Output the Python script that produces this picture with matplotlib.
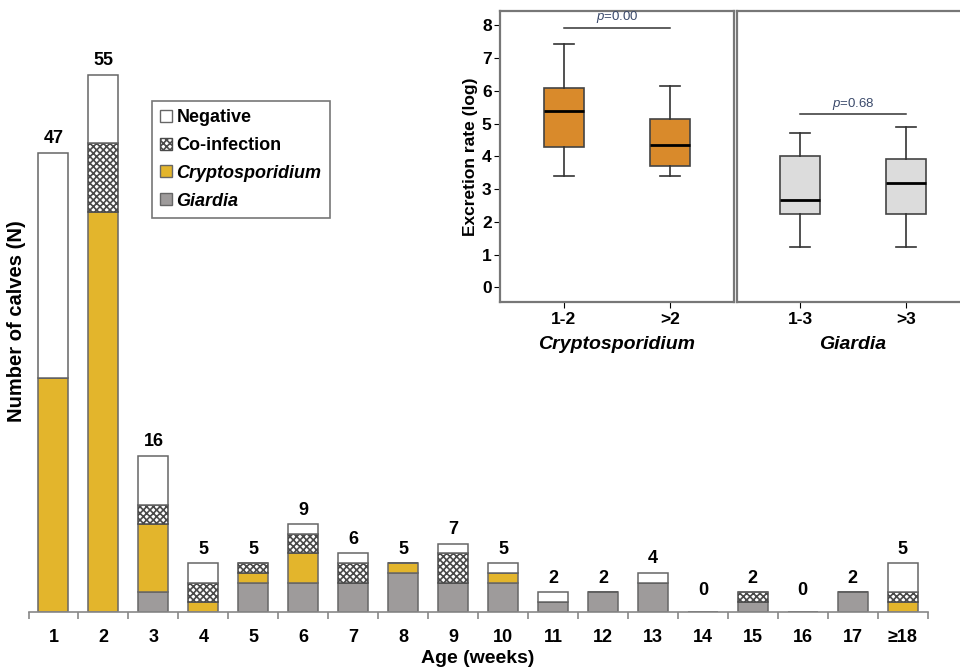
import matplotlib
matplotlib.use("Agg")
import matplotlib.pyplot as plt
from matplotlib.patches import Patch
import numpy as np

plt.rcParams['font.family'] = ['Liberation Sans', 'DejaVu Sans']
plt.rcParams['mathtext.fontset'] = 'custom'
plt.rcParams['mathtext.it'] = 'Liberation Sans:italic'
plt.rcParams['mathtext.rm'] = 'Liberation Sans'
plt.rcParams['hatch.linewidth'] = 1.2

# stacked bars: calves per age week
ages = ['1', '2', '3', '4', '5', '6', '7', '8', '9', '10',
        '11', '12', '13', '14', '15', '16', '17', '\u226518']
giardia = [0, 0, 2, 0, 3, 3, 3, 4, 3, 3, 1, 2, 3, 0, 1, 0, 2, 0]
crypto = [24, 41, 7, 1, 1, 3, 0, 1, 0, 1, 0, 0, 0, 0, 0, 0, 0, 1]
coinf = [0, 7, 2, 2, 1, 2, 2, 0, 3, 0, 0, 0, 0, 0, 1, 0, 0, 1]
negative = [23, 7, 5, 2, 0, 1, 1, 0, 1, 1, 1, 0, 1, 0, 0, 0, 0, 3]

# inset box plots (log excretion rate)
crypto_groups = ['1-2', '>2']
crypto_box = [  # whislo, q1, med, q3, whishi
    [3.41, 4.28, 5.40, 6.09, 7.44],
    [3.41, 3.71, 4.34, 5.15, 6.15],
]
giardia_groups = ['1-3', '>3']
giardia_box = [
    [1.22, 2.25, 2.68, 4.00, 4.72],
    [1.22, 2.25, 3.18, 3.92, 4.89],
]
p_crypto = '0.00'
p_giardia = '0.68'

c_yellow = '#E3B52C'
c_gray = '#9E9B9B'
c_edge = '#666666'

fig = plt.figure(figsize=(9.6, 6.7), dpi=100)
ax = fig.add_axes([28.5 / 960, 58 / 670, 899.2 / 960, 586 / 670])
ax.patch.set_alpha(0)

x = np.arange(1, len(ages) + 1)
w = 0.6
g = np.array(giardia)
c = np.array(crypto)
co = np.array(coinf)
n = np.array(negative)
ax.bar(x, g, w, color=c_gray, edgecolor=c_edge, lw=1.1)
ax.bar(x, c, w, bottom=g, color=c_yellow, edgecolor=c_edge, lw=1.1)
ax.bar(x, co, w, bottom=g + c, color='white', edgecolor='#4a4a4a', lw=1.1, hatch='xxxxx')
ax.bar(x, n, w, bottom=g + c + co, color='white', edgecolor=c_edge, lw=1.1)

totals = g + c + co + n
for xi, t in zip(x, totals):
    ax.annotate(str(t), (xi, max(t, 0.8)), xytext=(0, 4), textcoords='offset points',
                ha='center', va='bottom', fontsize=13, fontweight='bold')

ax.set_xlim(0.5, len(ages) + 0.5)
ax.set_ylim(0, 60)
for s in ['left', 'right', 'top']:
    ax.spines[s].set_visible(False)
ax.spines['bottom'].set_color('#888888')
ax.spines['bottom'].set_linewidth(1.2)
ax.set_yticks([])
ax.set_xticks(x)
ax.set_xticklabels(ages, fontsize=13, fontweight='bold')
ax.set_xticks(np.arange(0.5, len(ages) + 1), minor=True)
ax.tick_params(axis='x', which='major', length=0, pad=12)
ax.tick_params(axis='x', which='minor', length=5, color='#888888', width=1.2)
ax.set_xlabel('Age (weeks)', fontsize=14, fontweight='bold', labelpad=3)
fig.text(17 / 960, 1 - 321 / 670, 'Number of calves (N)', rotation=90,
         ha='center', va='center', fontsize=14.5, fontweight='bold')

handles = [Patch(facecolor='white', edgecolor=c_edge),
           Patch(facecolor='white', edgecolor='#4a4a4a', hatch='xxxxx'),
           Patch(facecolor=c_yellow, edgecolor=c_edge),
           Patch(facecolor=c_gray, edgecolor=c_edge)]
leg = fig.legend(handles, ['Negative', 'Co-infection', 'Cryptosporidium', 'Giardia'],
                 loc='upper left', bbox_to_anchor=(152 / 960, 1 - 101 / 670),
                 fancybox=False, edgecolor='#777777', framealpha=1,
                 prop={'size': 13, 'weight': 'bold'},
                 handlelength=0.65, handleheight=0.65, handletextpad=0.25,
                 labelspacing=0.6, borderpad=0.45, borderaxespad=0)
leg.get_frame().set_linewidth(1.2)
for t in leg.get_texts()[2:]:
    t.set_style('italic')


def draw_box(a, stats, colour):
    rows = [dict(whislo=s[0], q1=s[1], med=s[2], q3=s[3], whishi=s[4], fliers=[])
            for s in stats]
    a.bxp(rows, positions=[1, 2], widths=0.38, capwidths=0.19, patch_artist=True,
          boxprops=dict(facecolor=colour, edgecolor='#444444', lw=1.2),
          medianprops=dict(color='black', lw=2),
          whiskerprops=dict(color='#333333', lw=1.2),
          capprops=dict(color='#333333', lw=1.2), showfliers=False)
    a.set_xlim(0.4, 2.6)
    a.set_ylim(-0.45, 8.45)
    for s in a.spines.values():
        s.set_color('#777777')
        s.set_linewidth(1.6)


ax1 = fig.add_axes([500 / 960, 368 / 670, 234 / 960, 291.3 / 670])
draw_box(ax1, crypto_box, '#D98A2B')
ax1.set_xticks([1, 2])
ax1.set_xticklabels(crypto_groups, fontsize=12.5, fontweight='bold')
ax1.set_yticks(range(0, 9))
ax1.tick_params(axis='y', labelsize=12.5, length=4, pad=2)
for t in ax1.get_yticklabels():
    t.set_fontweight('bold')
ax1.tick_params(axis='x', length=4, pad=3)
ax1.set_ylabel('Excretion rate (log)', fontsize=12.5, fontweight='bold', labelpad=3)
ax1.set_xlabel('Cryptosporidium', fontsize=14, fontweight='bold', style='italic', labelpad=7)
ax1.plot([1, 2], [7.92, 7.92], color='#333333', lw=1.1)
ax1.text(1.5, 8.0, r'$\it{p}$=' + p_crypto, ha='center', va='bottom', fontsize=9.5, color='#3B4A6B')

ax2 = fig.add_axes([737 / 960, 368 / 670, 232 / 960, 291.3 / 670])
draw_box(ax2, giardia_box, '#DCDCDC')
ax2.set_xticks([1, 2])
ax2.set_xticklabels(giardia_groups, fontsize=12.5, fontweight='bold')
ax2.set_yticks([])
ax2.tick_params(axis='x', length=4, pad=3)
ax2.set_xlabel('Giardia', fontsize=14, fontweight='bold', style='italic', labelpad=7)
ax2.plot([1, 2], [5.29, 5.29], color='#333333', lw=1.1)
ax2.text(1.5, 5.37, r'$\it{p}$=' + p_giardia, ha='center', va='bottom', fontsize=9.5, color='#3B4A6B')

fig.savefig('out.png', dpi=100)
